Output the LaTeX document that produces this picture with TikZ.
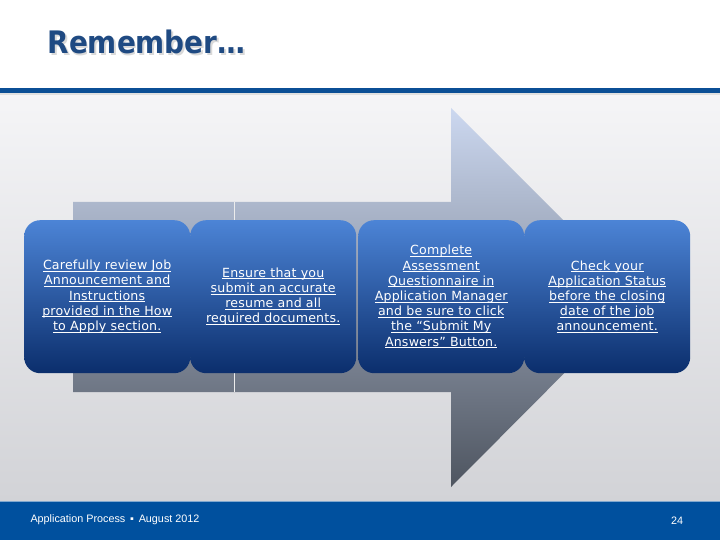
\documentclass[tikz,border=0pt]{standalone}
\usepackage{fontspec}
\setmainfont{DejaVu Sans}
\newfontfamily\titlefont{DejaVu Sans Condensed}
\newfontfamily\stepfont[LetterSpace=1.5]{DejaVu Sans}
\newfontfamily\footfont{Liberation Sans}
\usetikzlibrary{shadings}

\definecolor{navy}{HTML}{0B4F96}
\definecolor{footblue}{HTML}{00509E}
\definecolor{titleblue}{HTML}{1F4A82}
\definecolor{boxtop}{HTML}{4C84D6}
\definecolor{boxbot}{HTML}{0B2E6C}

% underlined line of a step
\newcommand\uln[1]{{\setbox0\hbox{#1}\rlap{\rule[-1.8pt]{\wd0}{0.7pt}}\box0}}

\begin{document}
\begin{tikzpicture}[x=1pt, y=-1pt,
	stepbox/.style={rounded corners=16pt, top color=boxtop, bottom color=boxbot,
		minimum width=166pt, minimum height=153pt, anchor=north west, inner sep=0pt,
		text=white, align=center, font=\stepfont\fontsize{12.6}{15.2}\selectfont},
	foot/.style={text=white, font=\footfont\fontsize{10.8}{12}\selectfont}]
	\useasboundingbox (0,0) rectangle (720,540);

	% page
	\fill[white] (0,0) rectangle (720,88);
	\shade[top color={rgb,255:red,245;green,245;blue,247}, bottom color={rgb,255:red,210;green,211;blue,215}] (0,93) rectangle (720,501);
	\fill[navy] (0,88) rectangle (720,93);
	\fill[black!12] (0,93) rectangle (720,95);
	\fill[footblue] (0,501) rectangle (720,540);
	\draw[footblue!50!white] (0,501) -- (720,501);

	\node[text=black!15, font=\titlefont\bfseries\fontsize{31}{34}\selectfont, anchor=west] at (45.5,43.5) {Remember\ldots};
	\node (title) [text=titleblue, font=\titlefont\bfseries\fontsize{31}{34}\selectfont, anchor=west] at (44,42) {Remember\ldots};

	% big arrow behind the steps
	\shade[top color={rgb,255:red,204;green,216;blue,240}, middle color={rgb,255:red,140;green,147;blue,163}, bottom color={rgb,255:red,78;green,85;blue,96}]
		(73,202) -- (451,202) -- (451,108) -- (640,297) -- (451,487) -- (451,392) -- (73,392) -- cycle;
	\draw[white!85!gray, line width=1pt] (234,202) -- (234,392);

	% steps
	\node (s1) [stepbox] at (24,220) {\uln{Carefully review Job}\\ \uln{Announcement and}\\ \uln{Instructions}\\ \uln{provided in the How}\\ \uln{to Apply section.}};
	\node (s2) [stepbox] at (190,220) {\uln{Ensure that you}\\ \uln{submit an accurate}\\ \uln{resume and all}\\ \uln{required documents.}};
	\node (s3) [stepbox] at (358,220) {\uln{Complete}\\ \uln{Assessment}\\ \uln{Questionnaire in}\\ \uln{Application Manager}\\ \uln{and be sure to click}\\ \uln{the “Submit My}\\ \uln{Answers” Button.}};
	\node (s4) [stepbox] at (524,220) {\uln{Check your}\\ \uln{Application Status}\\ \uln{before the closing}\\ \uln{date of the job}\\ \uln{announcement.}};

	% footer
	\node (foottext) [foot, anchor=west] at (27,520) {Application Process \,▪\, August 2012};
	\node (page) [foot] at (677,521) {24};
\end{tikzpicture}
\end{document}
